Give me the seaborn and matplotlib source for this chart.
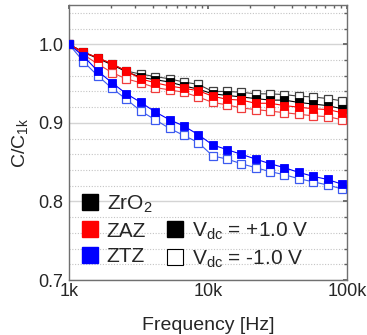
import numpy as np
import pandas as pd
import seaborn as sns
import matplotlib.pyplot as plt
from matplotlib.lines import Line2D
from matplotlib.ticker import MultipleLocator, FixedLocator, FixedFormatter, LogLocator, NullFormatter

freq = [1000, 1270, 1610, 2040, 2590, 3290, 4170, 5290, 6710, 8510,
        10800, 13700, 17400, 22000, 28000, 35500, 45000, 57100, 72500, 92000]

zro2_pos = [1.0, 0.990, 0.982, 0.974, 0.965, 0.958, 0.955, 0.952, 0.947, 0.943,
            0.937, 0.935, 0.933, 0.931, 0.929, 0.929, 0.926, 0.924, 0.922, 0.918]
zro2_neg = [1.0, 0.990, 0.983, 0.975, 0.966, 0.962, 0.959, 0.956, 0.952, 0.949,
            0.940, 0.940, 0.939, 0.937, 0.937, 0.936, 0.934, 0.933, 0.931, 0.928]
zaz_pos = [1.0, 0.990, 0.983, 0.975, 0.966, 0.956, 0.951, 0.947, 0.944, 0.941,
           0.934, 0.930, 0.929, 0.925, 0.925, 0.922, 0.920, 0.918, 0.917, 0.913]
zaz_neg = [1.0, 0.987, 0.975, 0.964, 0.956, 0.951, 0.945, 0.942, 0.939, 0.933,
           0.926, 0.923, 0.919, 0.917, 0.915, 0.913, 0.911, 0.909, 0.908, 0.904]
ztz_pos = [1.0, 0.985, 0.966, 0.951, 0.937, 0.926, 0.914, 0.904, 0.896, 0.885,
           0.872, 0.866, 0.860, 0.854, 0.848, 0.843, 0.837, 0.832, 0.828, 0.822]
ztz_neg = [1.0, 0.978, 0.960, 0.944, 0.930, 0.915, 0.904, 0.893, 0.884, 0.875,
           0.858, 0.854, 0.848, 0.843, 0.838, 0.834, 0.829, 0.825, 0.821, 0.816]

materials = ["ZrO$_2$", "ZAZ", "ZTZ"]
colors = ["black", "red", "blue"]
light = ["#404040", "#f03c3c", "#3c5af0"]
x_ticks = [1e3, 1e4, 1e5]
x_labels = ["1k", "10k", "100k"]

sns.set_theme(style="white")
plt.rcParams["font.family"] = ["Liberation Sans", "DejaVu Sans"]
plt.rcParams["mathtext.fontset"] = "custom"
plt.rcParams["mathtext.rm"] = "Liberation Sans"
plt.rcParams["mathtext.it"] = "Liberation Sans"

fig = plt.figure(figsize=(3.67, 3.35), dpi=100)
ax = fig.add_axes([0.188, 0.164, 0.9455 - 0.188, 0.985 - 0.164])

ax.grid(which="major", axis="y", color="#d4d4d4", lw=1.0, ls="-", zorder=0)
ax.grid(which="minor", axis="y", color="#c4c4c4", lw=0.8, ls=(0, (1, 1.5)), zorder=0)

series = [(zro2_pos, zro2_neg), (zaz_pos, zaz_neg), (ztz_pos, ztz_neg)]
for i, (pos, neg) in enumerate(series):
    sns.lineplot(x=freq, y=neg, ax=ax, marker="s", color=light[i], lw=0.8,
                 markersize=5.2, markerfacecolor="white", markeredgecolor=light[i],
                 markeredgewidth=0.9, zorder=3)
    sns.lineplot(x=freq, y=pos, ax=ax, marker="s", color=colors[i], lw=0.8,
                 markersize=5.2, markerfacecolor=colors[i], markeredgecolor=colors[i],
                 markeredgewidth=0.6, zorder=3)

ax.set_xscale("log")
ax.set_xlim(1e3, 1e5)
ax.set_ylim(0.7, 1.05)
ax.xaxis.set_major_locator(FixedLocator(x_ticks))
ax.xaxis.set_major_formatter(FixedFormatter(x_labels))
ax.xaxis.set_minor_locator(LogLocator(base=10, subs=np.arange(2, 10)))
ax.xaxis.set_minor_formatter(NullFormatter())
ax.yaxis.set_major_locator(MultipleLocator(0.1))
ax.yaxis.set_minor_locator(MultipleLocator(0.02))
ax.yaxis.set_major_formatter(plt.FormatStrFormatter("%.1f"))

ax.tick_params(which="both", direction="in", top=True, right=True, color="#606060")
ax.tick_params(which="major", length=3, labelsize=13, pad=2)
ax.tick_params(which="minor", length=2)
ax.tick_params(axis="y", pad=4)
for s in ax.spines.values():
    s.set_color("#707070")
    s.set_linewidth(1.0)

ax.set_xlabel("Frequency [Hz]", fontsize=14, labelpad=12)
ax.set_ylabel("C/C$_{1k}$", fontsize=14, labelpad=6)

handles = [Line2D([], [], marker="s", ls="none", color=c, markersize=12) for c in colors]
handles.append(Line2D([], [], ls="none"))
handles.append(Line2D([], [], marker="s", ls="none", color="black", markersize=12))
handles.append(Line2D([], [], marker="s", ls="none", markerfacecolor="white",
                      markeredgecolor="black", markeredgewidth=0.8, markersize=12))
labels = materials + ["", "V$_{dc}$ = +1.0 V", "V$_{dc}$ = -1.0 V"]
ax.legend(handles, labels, ncol=2, loc="lower left", bbox_to_anchor=(0.005, 0.0),
          frameon=False, fontsize=15, handlelength=0.9, handletextpad=0.35,
          labelspacing=0.32, columnspacing=0.65, borderpad=0.3, borderaxespad=0.2)

fig.savefig("out.png", dpi=100)
